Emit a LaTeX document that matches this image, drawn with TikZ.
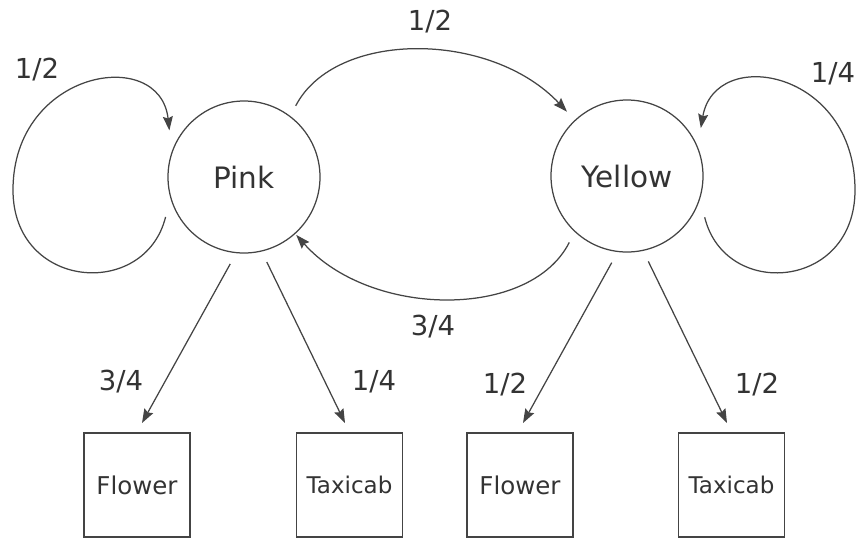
\documentclass[tikz,border=0pt]{standalone}
\usepackage{fontspec}
\setmainfont{DejaVu Sans}
\usepackage{xcolor}
\usetikzlibrary{arrows.meta}
\definecolor{inkgray}{HTML}{333333}
\definecolor{linegray}{HTML}{444444}

\begin{document}
\begin{tikzpicture}[
  x=1pt, y=-1pt,
  line width=1.25pt, draw=linegray, >={Stealth[length=14pt,width=10pt,inset=2pt]},
  state/.style={circle,draw,inner sep=0pt,minimum size=152pt,outer sep=12pt,text=inkgray,font=\fontsize{29.5}{34}\selectfont},
  obs/.style={rectangle,draw,inner sep=0pt,minimum width=106pt,minimum height=104pt,outer xsep=0pt,outer ysep=10pt,text=inkgray},
  prob/.style={text=inkgray,inner sep=0pt,font=\fontsize{27.5}{32}\selectfont}
]
  \useasboundingbox (0,0) rectangle (857,539);
  \node[state] (pink) at (244,177) {Pink};
  \node[state] (yellow) at (627,176) {Yellow};
  \node[obs,font=\fontsize{24.5}{28}\selectfont] (flowerp) at (137,485) {Flower};
  \node[obs,font=\fontsize{23}{26}\selectfont] (taxip) at (349.5,485) {Taxicab};
  \node[obs,font=\fontsize{24.5}{28}\selectfont] (flowery) at (520,485) {Flower};
  \node[obs,font=\fontsize{23}{26}\selectfont] (taxiy) at (731.5,485) {Taxicab};
  \node[prob] (lpp) at (37,70) {1/2};
  \node[prob] (lpy) at (430,22) {1/2};
  \node[prob] (lyy) at (833,74) {1/4};
  \node[prob] (lyp) at (433,327) {3/4};
  \node[prob] (lpf) at (121,382) {3/4};
  \node[prob] (lpt) at (374,382) {1/4};
  \node[prob] (lyf) at (505,385) {1/2};
  \node[prob] (lyt) at (757,385) {1/2};
  \draw[->] (pink.207) .. controls (145,300) and (13,290) .. (13,190)
    .. controls (13,70) and (160,45) .. (pink.148);
  \draw[->] (yellow.332) .. controls (725,300) and (855,290) .. (855,190)
    .. controls (855,70) and (715,45) .. (yellow.33);
  \draw[->] (pink.54) .. controls (335,30) and (490,30) .. (yellow.133);
  \draw[->,shorten >=-10pt] (yellow.229) .. controls (530,320) and (370,318) .. (pink.312);
  \draw[->] (pink.261) -- ([xshift=5pt]flowerp.north);
  \draw[->] (pink.285) -- ([xshift=-4.5pt]taxip.north);
  \draw[->] (yellow.260) -- ([xshift=3pt]flowery.north);
  \draw[->] (yellow.284) -- ([xshift=-4.5pt]taxiy.north);
\end{tikzpicture}
\end{document}
